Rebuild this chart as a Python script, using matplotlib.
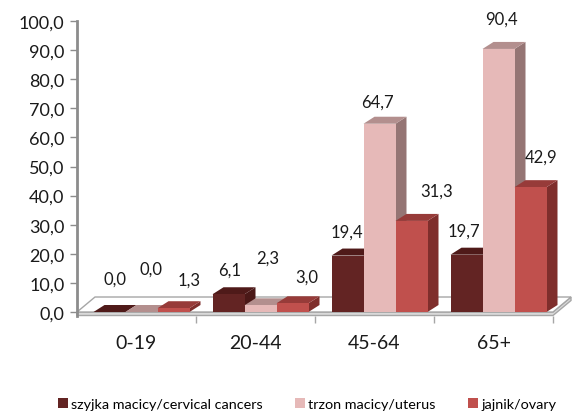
import numpy as np
import matplotlib
matplotlib.use('Agg')
import matplotlib.pyplot as plt
from matplotlib.patches import Polygon, Patch
from matplotlib.ticker import FuncFormatter

categories = ['0-19', '20-44', '45-64', '65+']
series = ['szyjka macicy/cervical cancers', 'trzon macicy/uterus', 'jajnik/ovary']
cervical = [0.0, 6.1, 19.4, 19.7]
uterus = [0.0, 2.3, 64.7, 90.4]
ovary = [1.3, 3.0, 31.3, 42.9]
values = [cervical, uterus, ovary]

front_cols = ['#632423', '#e6b9b8', '#c0504d']
side_cols = ['#4a1817', '#957574', '#7f2e2c']
top_cols = ['#4f1a19', '#b38f8e', '#973b39']

# label offsets in pixels from the top of each bar's front face
label_off = [
    [(6, 33), (1, 25), (-1, 24), (-3, 24)],
    [(10, 43), (7, 48), (-2, 22), (3, 30)],
    [(16, 29), (14, 27), (25, 30), (11, 31)],
]

plt.rcParams['font.family'] = ['Lato', 'DejaVu Sans']

W, H = 574, 414
fig = plt.figure(figsize=(W / 100, H / 100), dpi=100)
ax_l, ax_r, ax_t, ax_b = 77, 553, 22, 316.5
ax = fig.add_axes([ax_l / W, 1 - ax_b / H, (ax_r - ax_l) / W, (ax_b - ax_t) / H])
ax.set_xlim(-0.5, 3.5)
ax.set_ylim(-1.2, 100)

ppx = 4.0 / (ax_r - ax_l)          # x units per pixel
ppy = 101.2 / (ax_b - ax_t)        # y units per pixel

# floor slab
fdx, fdy = 18 * ppx, 15 * ppy
top_floor = [(-0.5, 0), (3.5, 0), (3.5 + fdx, fdy), (-0.5 + fdx, fdy)]
slab = [(-0.5, -1.2), (3.5, -1.2), (3.5 + fdx, fdy - 1.2), (3.5 + fdx, fdy), (3.5, 0), (-0.5, 0)]
ax.add_patch(Polygon(slab, closed=True, facecolor='#d9d9d9', edgecolor='#a6a6a6', lw=1, clip_on=False, zorder=1))
ax.add_patch(Polygon(top_floor, closed=True, facecolor='white', edgecolor='#a6a6a6', lw=1, clip_on=False, zorder=1))

# bars with pseudo 3D faces
w = 32 * ppx
shift = 5 * ppx
bdx, bdy = 11 * ppx, 7 * ppy
z = 2
for k in range(len(categories)):
    for j in range(3):
        v = values[j][k]
        x0 = k + shift - 1.5 * w + j * w
        x1 = x0 + w
        side = [(x1, 0), (x1 + bdx, bdy), (x1 + bdx, v + bdy), (x1, v)]
        top = [(x0, v), (x1, v), (x1 + bdx, v + bdy), (x0 + bdx, v + bdy)]
        ax.add_patch(Polygon(side, closed=True, facecolor=side_cols[j], edgecolor='none', clip_on=False, zorder=z))
        ax.add_patch(Polygon(top, closed=True, facecolor=top_cols[j], edgecolor='none', clip_on=False, zorder=z))
        ax.bar(x0, v, width=w, align='edge', color=front_cols[j], clip_on=False, zorder=z)
        z += 1
        ox, oy = label_off[j][k]
        ax.annotate('{:.1f}'.format(v).replace('.', ','), xy=(x0 + w / 2, v),
                    xytext=(ox, oy), textcoords='offset pixels',
                    ha='center', va='center', fontsize=12, color='#1a1a1a', zorder=50)

for s in ['top', 'right', 'bottom']:
    ax.spines[s].set_visible(False)
ax.spines['left'].set_color('#8c8c8c')
ax.spines['left'].set_linewidth(2)
ax.spines['left'].set_bounds(-1.2, 100)

ax.set_yticks(np.arange(0, 101, 10))
ax.yaxis.set_major_formatter(FuncFormatter(lambda v, p: '{:.1f}'.format(v).replace('.', ',')))
ax.tick_params(axis='y', length=5, width=1, color='#8c8c8c', labelsize=13, pad=4, labelcolor='#1a1a1a')

ax.set_xticks(range(len(categories)))
ax.set_xticklabels(categories)
ax.set_xticks([0.5, 1.5, 2.5, 3.5], minor=True)
ax.tick_params(axis='x', which='major', length=0, labelsize=14, pad=13, labelcolor='#1a1a1a')
ax.tick_params(axis='x', which='minor', length=5, width=1, color='#a6a6a6', direction='out')

handles = [Patch(facecolor=front_cols[j]) for j in range(3)]
fig.legend(handles, series, loc='center', bbox_to_anchor=(307 / W, 1 - 405 / H), ncol=3,
           frameon=False, fontsize=10.4, handlelength=0.7, handleheight=0.7,
           handletextpad=0.25, columnspacing=2.2)

fig.savefig('out.png', dpi=100)
